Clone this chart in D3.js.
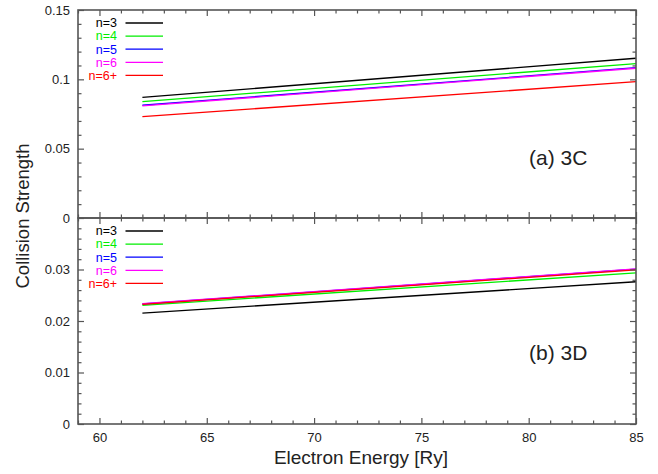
<!DOCTYPE html>
<html>
<head>
<meta charset="utf-8">
<script src="https://cdn.jsdelivr.net/npm/d3@7"></script>
<style>
  html, body { margin: 0; padding: 0; background: #fff; }
  svg { display: block; font-family: "Liberation Sans", Arial, Helvetica, sans-serif; }
</style>
</head>
<body>
<svg id="chart" width="658" height="474"></svg>
<script>
// Electron energies (Ry) at which the collision strengths are given
const energies = [62, 85];

// Series labels (principal quantum number of the upper level)
const seriesLabels = ["n=3", "n=4", "n=5", "n=6", "n=6+"];

// Panel (a) 3C collision strengths, one array per series
const cs3C_n3  = [0.0870, 0.1152];
const cs3C_n4  = [0.0839, 0.1113];
const cs3C_n5  = [0.0813, 0.1084];
const cs3C_n6  = [0.0808, 0.1080];
const cs3C_n6p = [0.0731, 0.0983];

// Panel (b) 3D collision strengths
const cs3D_n3  = [0.02154, 0.02762];
const cs3D_n4  = [0.02303, 0.02936];
const cs3D_n5  = [0.02330, 0.03008];
const cs3D_n6  = [0.02336, 0.03013];
const cs3D_n6p = [0.02322, 0.02994];

// Axis ticks
const xMajorTicks = [60, 65, 70, 75, 80, 85];
const yMajorTicksA = [0, 0.05, 0.1, 0.15];
const yTickLabelsA = ["0", "0.05", "0.1", "0.15"];
const yMajorTicksB = [0, 0.01, 0.02, 0.03];
const yTickLabelsB = ["0", "0.01", "0.02", "0.03"];

// Styling
const seriesColors = ["#000000", "#00ee00", "#0000ff", "#ff00ff", "#ff0000"];
const frameColor = "#555";
const textColor = "#222";

const svg = d3.select("#chart");
const left = 78, right = 636;

const x = d3.scaleLinear().domain([59, 85]).range([left, right]);

const panels = [
  { name: "(a) 3C", top: 10, bottom: 218, yMax: 0.15, minorStep: 0.01,
    majors: yMajorTicksA, labels: yTickLabelsA,
    series: [cs3C_n3, cs3C_n4, cs3C_n5, cs3C_n6, cs3C_n6p], labelY: 165 },
  { name: "(b) 3D", top: 218, bottom: 424, yMax: 0.04, minorStep: 0.002,
    majors: yMajorTicksB, labels: yTickLabelsB,
    series: [cs3D_n3, cs3D_n4, cs3D_n5, cs3D_n6, cs3D_n6p], labelY: 360 }
];

const xMinor = d3.range(59, 86, 1).filter(v => xMajorTicks.indexOf(v) < 0);
const MAJOR = 6, MINOR = 3.5;

function styleAxis(g) {
  g.select(".domain").remove();
  g.selectAll(".tick line").attr("stroke", frameColor).attr("stroke-width", 1.2);
  g.selectAll(".tick text").attr("fill", textColor).attr("font-size", 13)
    .attr("font-family", "Liberation Sans, Arial, sans-serif");
}

panels.forEach((p, pi) => {
  const y = d3.scaleLinear().domain([0, p.yMax]).range([p.bottom, p.top]);
  const g = svg.append("g");

  // data lines
  const line = d3.line().x((d, i) => x(energies[i])).y(d => y(d));
  p.series.forEach((vals, si) => {
    g.append("path")
      .datum(vals)
      .attr("d", line)
      .attr("fill", "none")
      .attr("stroke", seriesColors[si])
      .attr("stroke-width", 1.3);
  });

  // legend
  const legTop = p.top + 13;
  seriesLabels.forEach((lab, si) => {
    const ly = legTop + si * 13.1;
    g.append("text")
      .attr("x", 117).attr("y", ly + 4.3)
      .attr("text-anchor", "end")
      .attr("font-size", 12.5)
      .attr("fill", seriesColors[si])
      .text(lab);
    g.append("line")
      .attr("x1", 125.5).attr("x2", 163)
      .attr("y1", ly).attr("y2", ly)
      .attr("stroke", seriesColors[si])
      .attr("stroke-width", 1.3);
  });

  // y axes: left with labels, right mirrored
  const yMinor = d3.range(0, p.yMax + 1e-9, p.minorStep)
    .filter(v => !p.majors.some(m => Math.abs(m - v) < 1e-9) && Math.abs(v - p.yMax) > 1e-9);

  g.append("g").attr("transform", `translate(${left},0)`)
    .call(d3.axisLeft(y).tickValues(p.majors).tickSize(-MAJOR).tickPadding(8)
      .tickFormat((d, i) => p.labels[i]))
    .call(styleAxis);
  g.append("g").attr("transform", `translate(${left},0)`)
    .call(d3.axisLeft(y).tickValues(yMinor).tickSize(-MINOR).tickFormat(""))
    .call(styleAxis);
  g.append("g").attr("transform", `translate(${right},0)`)
    .call(d3.axisRight(y).tickValues(p.majors).tickSize(-MAJOR).tickFormat(""))
    .call(styleAxis);
  g.append("g").attr("transform", `translate(${right},0)`)
    .call(d3.axisRight(y).tickValues(yMinor).tickSize(-MINOR).tickFormat(""))
    .call(styleAxis);

  // x ticks: pointing inward at the panel's top and bottom
  g.append("g").attr("transform", `translate(0,${p.top})`)
    .call(d3.axisTop(x).tickValues(xMajorTicks).tickSize(-MAJOR).tickFormat(""))
    .call(styleAxis);
  g.append("g").attr("transform", `translate(0,${p.top})`)
    .call(d3.axisTop(x).tickValues(xMinor).tickSize(-MINOR).tickFormat(""))
    .call(styleAxis);
  const bottomAxis = d3.axisBottom(x).tickValues(xMajorTicks).tickSize(-MAJOR);
  if (pi === 0) bottomAxis.tickFormat("");
  else bottomAxis.tickPadding(9).tickFormat(d3.format("d"));
  g.append("g").attr("transform", `translate(0,${p.bottom})`)
    .call(bottomAxis)
    .call(styleAxis);
  g.append("g").attr("transform", `translate(0,${p.bottom})`)
    .call(d3.axisBottom(x).tickValues(xMinor).tickSize(-MINOR).tickFormat(""))
    .call(styleAxis);

  // frame
  g.append("rect")
    .attr("x", left).attr("y", p.top)
    .attr("width", right - left).attr("height", p.bottom - p.top)
    .attr("fill", "none").attr("stroke", frameColor).attr("stroke-width", 1.6);

  // panel label
  g.append("text")
    .attr("x", 529).attr("y", p.labelY)
    .attr("font-size", 21)
    .attr("fill", textColor)
    .text(p.name);
});

// axis titles
svg.append("text")
  .attr("x", 361).attr("y", 464)
  .attr("text-anchor", "middle")
  .attr("font-size", 19)
  .attr("fill", textColor)
  .text("Electron Energy [Ry]");

svg.append("text")
  .attr("transform", "translate(29,216) rotate(-90)")
  .attr("text-anchor", "middle")
  .attr("font-size", 18.5)
  .attr("fill", textColor)
  .text("Collision Strength");
</script>
</body>
</html>
